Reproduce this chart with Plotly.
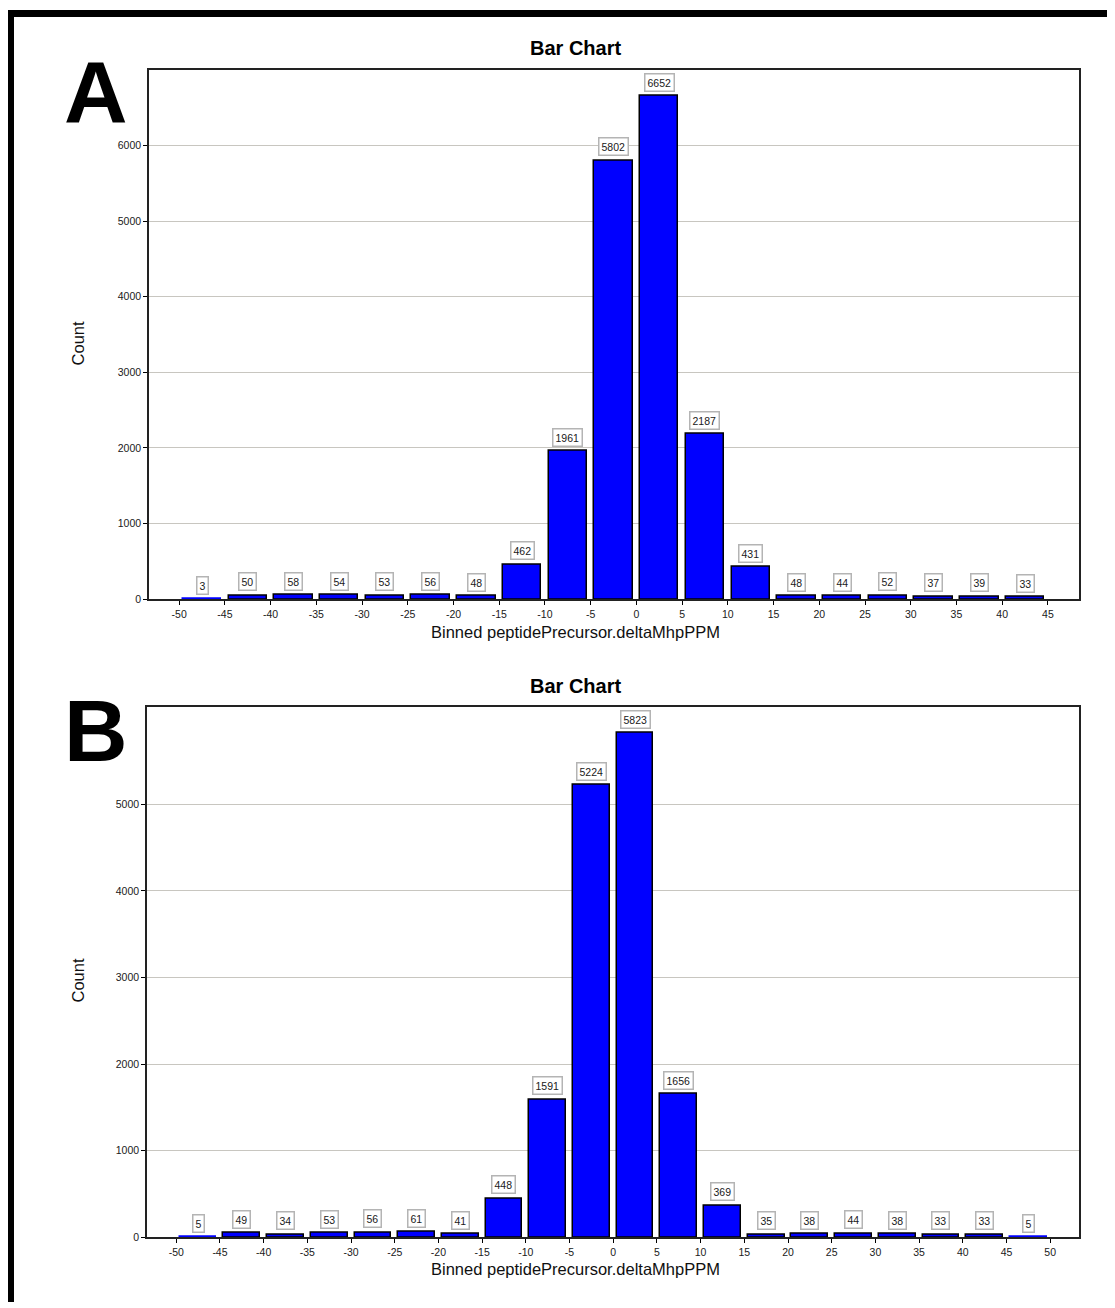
import plotly.graph_objects as go

# ---- data ----
bin_starts_a = [-50, -45, -40, -35, -30, -25, -20, -15, -10, -5, 0, 5, 10, 15, 20, 25, 30, 35, 40]
counts_a = [3, 50, 58, 54, 53, 56, 48, 462, 1961, 5802, 6652, 2187, 431, 48, 44, 52, 37, 39, 33]

bin_starts_b = [-50, -45, -40, -35, -30, -25, -20, -15, -10, -5, 0, 5, 10, 15, 20, 25, 30, 35, 40, 45]
counts_b = [5, 49, 34, 53, 56, 61, 41, 448, 1591, 5224, 5823, 1656, 369, 35, 38, 44, 38, 33, 33, 5]

x_ticks_a = list(range(-50, 50, 5))
x_ticks_b = list(range(-50, 55, 5))
y_ticks_a = [0, 1000, 2000, 3000, 4000, 5000, 6000]
y_ticks_b = [0, 1000, 2000, 3000, 4000, 5000]

x_title = "Binned peptidePrecursor.deltaMhpPPM"
y_title = "Count"
chart_title = "Bar Chart"

BIN = 5
OFF = 8  # page body margin in the browser
W, H = 1115 - OFF, 1308 - OFF
FONT = "Liberation Sans, Arial, sans-serif"


def px(x):
    return min(max((x - OFF) / W, 0), 1)


def py(y):
    return min(max(1 - (y - OFF) / H, 0), 1)


fig = go.Figure()


def add_panel(starts, counts, xa, ya):
    centers = [s + BIN / 2 for s in starts]
    line_cols = ["#0000ff" if c < 20 else "#000000" for c in counts]
    fig.add_trace(go.Bar(
        x=centers, y=counts, width=4.2,
        marker=dict(color="#0000ff", line=dict(color=line_cols, width=1.5)),
        xaxis=xa, yaxis=ya, showlegend=False, hoverinfo="x+y",
    ))
    for c, v in zip(centers, counts):
        fig.add_annotation(
            x=c, y=v, xref=xa, yref=ya, text=str(v), showarrow=False,
            yanchor="bottom", yshift=4,
            font=dict(family=FONT, size=10.5, color="#202020"),
            bgcolor="white", bordercolor="#b4b4b4", borderwidth=1.5, borderpad=2,
        )


add_panel(bin_starts_a, counts_a, "x", "y")
add_panel(bin_starts_b, counts_b, "x2", "y2")

axis_common = dict(
    showline=True, linecolor="#222222", linewidth=1.5, mirror=True,
    ticks="outside", ticklen=4, tickcolor="#000000", tickwidth=1,
    tickfont=dict(family=FONT, size=10.5, color="#202020"),
    zeroline=False,
)

fig.update_layout(
    width=W, height=H,
    margin=dict(l=0, r=0, t=0, b=0),
    paper_bgcolor="white", plot_bgcolor="white",
    bargap=0,
    xaxis=dict(domain=[px(149), px(1079)], anchor="y", range=[-53.3, 48.4],
               tickvals=x_ticks_a, ticktext=[str(t) for t in x_ticks_a],
               showgrid=False, **axis_common),
    yaxis=dict(domain=[py(602), py(70)], anchor="x", range=[0, 7000],
               tickvals=y_ticks_a, ticktext=[str(t) for t in y_ticks_a],
               showgrid=True, gridcolor="#c8c6c0", gridwidth=1, **axis_common),
    xaxis2=dict(domain=[px(147), px(1079)], anchor="y2", range=[-53.35, 53.3],
                tickvals=x_ticks_b, ticktext=[str(t) for t in x_ticks_b],
                showgrid=False, **axis_common),
    yaxis2=dict(domain=[py(1243), py(710)], anchor="x2", range=[0, 6125],
                tickvals=y_ticks_b, ticktext=[str(t) for t in y_ticks_b],
                showgrid=True, gridcolor="#c8c6c0", gridwidth=1, **axis_common),
)

# titles, axis titles and panel letters
for (ty, xty, cy, ly, letter) in [(48, 635, 345, 92, "A"), (689, 1275, 985, 734, "B")]:
    fig.add_annotation(x=px(575), y=py(ty), xref="paper", yref="paper", text="<b>" + chart_title + "</b>",
                       showarrow=False, font=dict(family=FONT, size=20, color="#000000"),
                       xanchor="center", yanchor="middle")
    fig.add_annotation(x=px(575), y=py(xty), xref="paper", yref="paper", text=x_title,
                       showarrow=False, font=dict(family=FONT, size=16.5, color="#101010"),
                       xanchor="center", yanchor="middle")
    fig.add_annotation(x=px(78), y=py(cy), xref="paper", yref="paper", text=y_title, textangle=-90,
                       showarrow=False, font=dict(family=FONT, size=16.5, color="#101010"),
                       xanchor="center", yanchor="middle")
    fig.add_annotation(x=px(96), y=py(ly), xref="paper", yref="paper", text="<b>" + letter + "</b>",
                       showarrow=False, font=dict(family=FONT, size=88, color="#000000"),
                       xanchor="center", yanchor="middle")

# outer black frame (top and left edges)
fig.add_shape(type="rect", xref="paper", yref="paper", x0=px(7), x1=1, y0=py(17), y1=py(10),
              fillcolor="black", line=dict(width=0), layer="above")
fig.add_shape(type="rect", xref="paper", yref="paper", x0=px(7), x1=px(14), y0=0, y1=py(10),
              fillcolor="black", line=dict(width=0), layer="above")

fig.write_html("out.html")
